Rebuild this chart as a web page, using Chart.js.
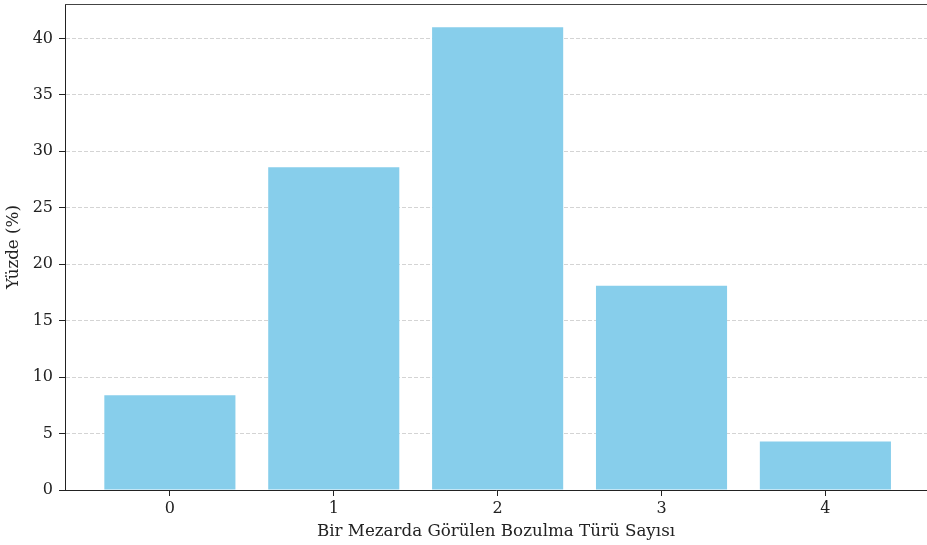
<!DOCTYPE html>
<html>
<head>
<meta charset="utf-8">
<script src="https://cdn.jsdelivr.net/npm/chart.js@4"></script>
<style>
  html, body { margin: 0; padding: 0; background: #fff; overflow: hidden; }
  #wrap { width: 927px; height: 545px; }
</style>
</head>
<body>
<div id="wrap"><canvas id="chart"></canvas></div>
<script>
// data
const categories = [0, 1, 2, 3, 4];
const percentages = [8.4, 28.6, 41.0, 18.1, 4.3];
const yTicks = [0, 5, 10, 15, 20, 25, 30, 35, 40];

const xLabel = 'Bir Mezarda Görülen Bozulma Türü Sayısı';
const yLabel = 'Yüzde (%)';

const tickFont = { family: 'DejaVu Serif', size: 16 };
const labelFont = { family: 'DejaVu Serif', size: 16.7 };
const ink = '#222';

// matplotlib style frame line along the top of the axes
const topFrame = {
    id: 'topFrame',
    afterDraw(chart) {
        const { ctx, chartArea } = chart;
        ctx.save();
        ctx.strokeStyle = '#444';
        ctx.lineWidth = 1;
        ctx.beginPath();
        ctx.moveTo(chartArea.left, chartArea.top + 0.5);
        ctx.lineTo(chartArea.right, chartArea.top + 0.5);
        ctx.stroke();
        ctx.restore();
    }
};

new Chart(document.getElementById('chart'), {
    type: 'bar',
    data: {
        datasets: [{
            data: categories.map((c, i) => ({ x: c, y: percentages[i] })),
            backgroundColor: '#87CEEB',
            borderWidth: 0,
            barPercentage: 0.8,
            categoryPercentage: 1
        }]
    },
    options: {
        responsive: true,
        maintainAspectRatio: false,
        animation: false,
        layout: { padding: { top: 4, right: 0, left: 0, bottom: 0 } },
        plugins: {
            legend: { display: false },
            tooltip: { enabled: false }
        },
        scales: {
            x: {
                type: 'linear',
                min: -0.64,
                max: 4.62,
                offset: false,
                afterBuildTicks: scale => { scale.ticks = categories.map(v => ({ value: v })); },
                afterFit: scale => { scale.height = 55; scale.paddingLeft = 0; scale.paddingRight = 0; },
                grid: { offset: false, drawOnChartArea: false, tickLength: 6, tickColor: ink, tickWidth: 1 },
                border: { color: ink, width: 1 },
                ticks: { color: ink, font: tickFont, padding: 3, maxRotation: 0 },
                title: { display: true, text: xLabel, color: ink, font: labelFont, padding: { top: 0, bottom: 3 } }
            },
            y: {
                min: 0,
                max: 43.05,
                z: 1,
                afterBuildTicks: scale => { scale.ticks = yTicks.map(v => ({ value: v })); },
                afterFit: scale => { scale.width = 65; scale.paddingTop = 0; scale.paddingBottom = 0; },
                grid: {
                    color: ctx => ctx.tick && ctx.tick.value === 0 ? 'rgba(0,0,0,0)' : 'rgba(176,176,176,0.55)',
                    tickLength: 6,
                    tickColor: ink,
                    tickBorderDash: [],
                    tickWidth: 1
                },
                border: { color: ink, width: 1, dash: [4, 2] },
                ticks: { color: ink, font: tickFont, padding: 6 },
                title: { display: true, text: yLabel, color: ink, font: labelFont, padding: { top: 4, bottom: 0 } }
            }
        }
    },
    plugins: [topFrame]
});
</script>
</body>
</html>
